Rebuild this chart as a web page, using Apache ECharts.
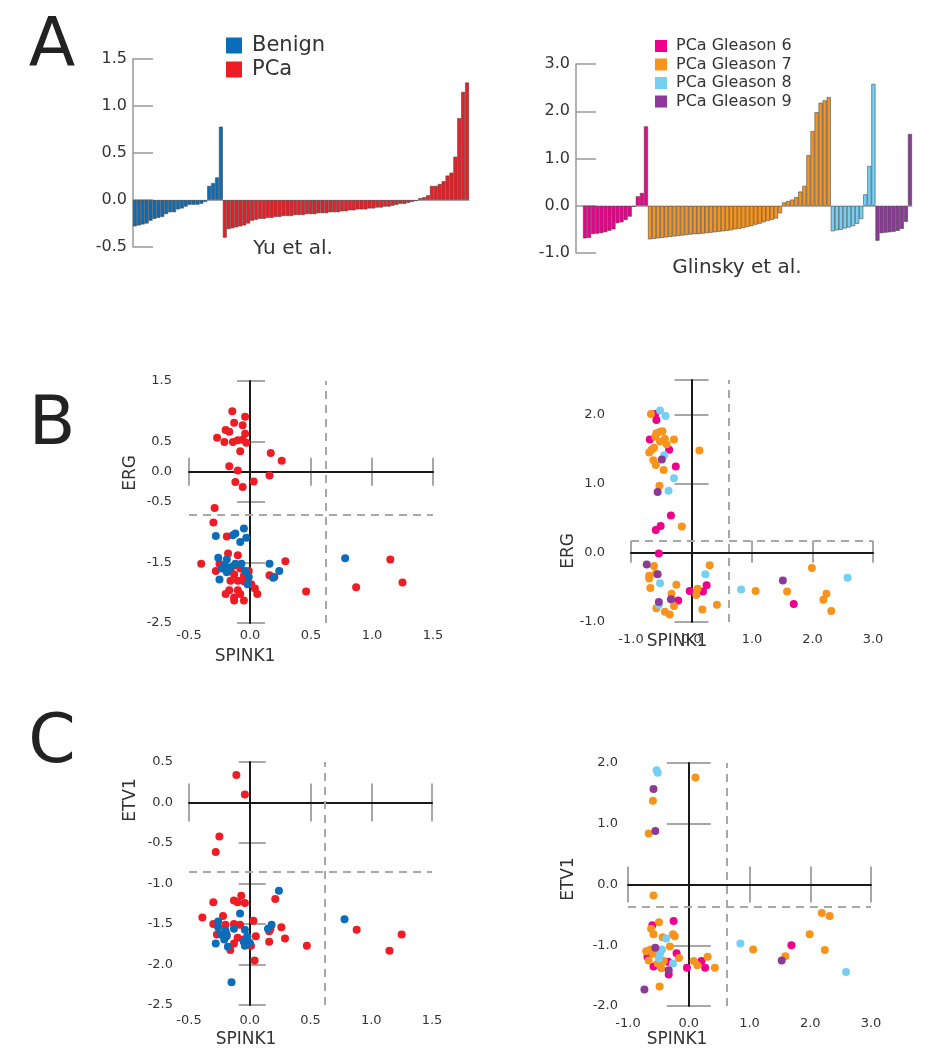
<!DOCTYPE html>
<html><head><meta charset="utf-8">
<script src="https://cdn.jsdelivr.net/npm/echarts@6/dist/echarts.min.js"></script>
<style>html,body{margin:0;padding:0;background:#fff}#c{width:942px;height:1050px}</style>
</head><body><div id="c"></div>
<script>
// ---------------- DATA ----------------
// Panel A: waterfall bars (sorted per group)
const yuBenign = [-0.28,-0.27,-0.26,-0.25,-0.22,-0.2,-0.19,-0.18,-0.15,-0.13,-0.13,-0.1,-0.09,-0.07,-0.05,-0.05,-0.05,-0.04,-0.02,0.15,0.18,0.24,0.78];
const yuPCa = [-0.4,-0.31,-0.3,-0.29,-0.28,-0.27,-0.25,-0.22,-0.21,-0.2,-0.2,-0.19,-0.19,-0.18,-0.18,-0.17,-0.17,-0.17,-0.16,-0.16,-0.16,-0.15,-0.15,-0.15,-0.14,-0.14,-0.14,-0.13,-0.13,-0.13,-0.12,-0.12,-0.11,-0.11,-0.1,-0.1,-0.1,-0.09,-0.09,-0.08,-0.08,-0.07,-0.07,-0.06,-0.05,-0.04,-0.04,-0.03,-0.02,-0.01,
  0.02,0.03,0.05,0.15,0.15,0.17,0.2,0.26,0.29,0.46,0.87,1.15,1.25];
const glG6 = [-0.69,-0.68,-0.6,-0.59,-0.58,-0.56,-0.53,-0.5,-0.37,-0.35,-0.3,-0.23,-0.02,0.2,0.27,1.68];
const glG7 = [-0.71,-0.7,-0.69,-0.68,-0.67,-0.66,-0.65,-0.64,-0.63,-0.62,-0.61,-0.6,-0.6,-0.59,-0.58,-0.57,-0.56,-0.55,-0.54,-0.53,-0.52,-0.5,-0.49,-0.47,-0.45,-0.43,-0.4,-0.38,-0.35,-0.32,-0.3,-0.27,-0.16,
  0.07,0.1,0.13,0.18,0.3,0.42,1.07,1.58,1.98,2.18,2.23,2.3];
const glG8 = [-0.54,-0.52,-0.51,-0.48,-0.46,-0.43,-0.38,-0.28,0.24,0.84,2.58];
const glG9 = [-0.74,-0.58,-0.57,-0.56,-0.55,-0.53,-0.49,-0.34,1.52];

// Panel B: SPINK1 vs ERG
const bYuBenign = [[-0.05,-0.94],[-0.12,-1.02],[-0.14,-1.05],[-0.03,-1.09],[-0.28,-1.06],[-0.08,-1.16],[-0.26,-1.42],[-0.19,-1.45],[-0.12,-1.52],[-0.07,-1.52],[-0.23,-1.6],[-0.19,-1.66],[-0.25,-1.78],[-0.04,-1.64],[-0.01,-1.74],[-0.02,-1.86],[0.16,-1.52],[0.19,-1.75],[0.24,-1.64],[0.78,-1.43],[-0.21,-1.55],[-0.16,-1.58]];
const bYuPCa = [[-0.145,1.0],[-0.04,0.91],[-0.13,0.81],[-0.06,0.77],[-0.2,0.69],[-0.17,0.66],[-0.04,0.63],[-0.27,0.56],[-0.21,0.49],[-0.14,0.49],[-0.1,0.52],[-0.06,0.53],[-0.03,0.48],[-0.08,0.34],[0.17,0.31],[0.26,0.18],[-0.17,0.09],[-0.1,0.02],[0.16,-0.06],[-0.12,-0.17],[0.03,-0.16],[-0.06,-0.25],[-0.29,-0.6],[-0.3,-0.84],[-0.19,-1.07],[-0.18,-1.35],[-0.1,-1.38],[-0.4,-1.52],[-0.25,-1.52],[-0.28,-1.64],[-0.16,-1.64],[-0.13,-1.7],[-0.16,-1.8],[-0.1,-1.8],[-0.05,-1.81],[-0.01,-1.64],[0.01,-1.86],[0.04,-1.93],[0.06,-2.02],[-0.17,-1.96],[-0.1,-1.96],[-0.2,-2.02],[-0.13,-2.08],[-0.08,-2.02],[-0.05,-2.13],[-0.13,-2.13],[0.16,-1.71],[0.2,-1.74],[0.29,-1.48],[0.46,-1.98],[0.87,-1.91],[1.15,-1.45],[1.25,-1.83],[-0.13,-1.55],[-0.08,-1.6],[-0.22,-1.58],[-0.05,-1.72]];
const bGlG7 = [[-0.67,2.01],[-0.52,1.75],[-0.58,1.73],[-0.48,1.76],[-0.6,1.68],[-0.44,1.65],[-0.29,1.64],[-0.52,1.61],[-0.41,1.57],[-0.62,1.52],[-0.66,1.49],[-0.7,1.45],[0.13,1.48],[-0.63,1.34],[-0.59,1.27],[-0.46,1.2],[-0.53,0.97],[-0.16,0.38],[-0.62,-0.19],[0.3,-0.18],[-0.59,-0.3],[-0.7,-0.33],[-0.7,-0.37],[-0.25,-0.46],[-0.68,-0.51],[0.1,-0.52],[0.08,-0.61],[-0.33,-0.59],[1.06,-0.55],[1.58,-0.56],[1.99,-0.22],[2.23,-0.59],[2.18,-0.68],[2.31,-0.84],[-0.58,-0.8],[-0.44,-0.85],[-0.36,-0.89],[-0.29,-0.77],[0.18,-0.82],[0.42,-0.75]];
const bGlG6 = [[-0.6,2.01],[-0.58,1.92],[-0.69,1.64],[-0.37,1.49],[-0.26,1.25],[-0.34,0.54],[-0.51,0.39],[-0.59,0.33],[-0.54,-0.01],[-0.03,-0.55],[0.19,-0.56],[0.25,-0.47],[-0.22,-0.69],[1.69,-0.74]];
const bGlG8 = [[-0.52,2.06],[-0.43,1.98],[-0.45,1.41],[-0.29,1.08],[-0.38,0.9],[-0.52,-0.44],[0.23,-0.31],[0.82,-0.53],[2.58,-0.36],[-0.54,-0.75]];
const bGlG9 = [[-0.49,1.35],[-0.56,0.88],[-0.74,-0.17],[-0.56,-0.31],[-0.34,-0.67],[-0.54,-0.71],[1.51,-0.4]];

// Panel C: SPINK1 vs ETV1
const cYuPCa = [[-0.11,0.34],[-0.04,0.1],[-0.25,-0.42],[-0.28,-0.61],[-0.3,-1.23],[-0.07,-1.15],[-0.13,-1.21],[-0.1,-1.23],[-0.04,-1.24],[0.21,-1.19],[-0.39,-1.42],[-0.22,-1.4],[-0.3,-1.5],[0.03,-1.46],[-0.13,-1.5],[-0.08,-1.51],[-0.27,-1.63],[0.26,-1.54],[0.16,-1.59],[0.17,-1.56],[0.05,-1.65],[0.29,-1.68],[0.16,-1.72],[0.47,-1.77],[0.01,-1.77],[-0.16,-1.82],[-0.13,-1.74],[-0.1,-1.67],[-0.19,-1.63],[0.04,-1.95],[0.88,-1.57],[1.15,-1.83],[1.25,-1.63],[-0.2,-1.51],[-0.05,-1.69]];
const cYuBenign = [[0.24,-1.09],[-0.08,-1.37],[-0.26,-1.47],[-0.26,-1.54],[-0.2,-1.58],[-0.24,-1.63],[-0.19,-1.65],[-0.21,-1.69],[-0.13,-1.56],[-0.04,-1.57],[-0.02,-1.65],[-0.05,-1.72],[-0.28,-1.74],[-0.18,-1.78],[-0.04,-1.77],[0,-1.73],[0.15,-1.56],[0.18,-1.51],[0.78,-1.44],[-0.15,-2.22]];
const cGlG7 = [[0.11,1.76],[-0.59,1.38],[-0.66,0.84],[-0.58,-0.18],[2.19,-0.47],[2.32,-0.52],[1.99,-0.82],[2.24,-1.08],[1.06,-1.07],[1.59,-1.18],[-0.49,-0.62],[-0.62,-0.73],[-0.58,-0.82],[-0.43,-0.87],[-0.26,-0.82],[-0.23,-0.85],[-0.31,-1.02],[-0.16,-1.21],[-0.7,-1.1],[-0.63,-1.07],[-0.59,-1.14],[-0.66,-1.25],[-0.51,-1.3],[-0.41,-1.26],[-0.45,-1.38],[0.08,-1.26],[0.14,-1.33],[0.31,-1.19],[0.43,-1.37],[-0.48,-1.68],[-0.55,-1.11]];
const cGlG6 = [[-0.25,-0.6],[-0.6,-0.67],[-0.2,-1.13],[-0.68,-1.19],[-0.58,-1.35],[-0.33,-1.48],[-0.34,-1.27],[-0.03,-1.37],[0.21,-1.26],[0.27,-1.37],[1.69,-1.0]];
const cGlG8 = [[-0.53,1.88],[-0.51,1.84],[-0.37,-0.89],[-0.44,-1.07],[-0.47,-1.14],[-0.49,-1.22],[-0.26,-1.3],[0.85,-0.97],[2.59,-1.44]];
const cGlG9 = [[-0.58,1.57],[-0.55,0.88],[-0.55,-1.04],[-0.33,-1.41],[1.53,-1.25],[-0.73,-1.73]];

// cut-off thresholds [SPINK1, ERG/ETV1]
const cutB1 = [0.62, -0.71];
const cutB2 = [0.62, 0.18];
const cutC1 = [0.62, -0.85];
const cutC2 = [0.62, -0.36];

// tick labels
const yLabelsB1 = ['1.5','0.5','0.0','-0.5','-1.5','-2.5'];
const yLabelsB2 = ['2.0','1.0','0.0','-1.0'];
const yLabelsC1 = ['0.5','0.0','-0.5','-1.0','-1.5','-2.0','-2.5'];
const yLabelsC2 = ['2.0','1.0','0.0','-1.0','-2.0'];
const xLabelsYu = ['-0.5','0.0','0.5','1.0','1.5'];
const xLabelsGl = ['-1.0','0.0','1.0','2.0','3.0'];

const groupNames = ['Benign','PCa','PCa Gleason 6','PCa Gleason 7','PCa Gleason 8','PCa Gleason 9'];

// ---------------- STYLE ----------------
const FONT = 'DejaVu Sans';
const C = {
  'Benign':'#0b6db7', 'PCa':'#ee1c25',
  'PCa Gleason 6':'#ec008c', 'PCa Gleason 7':'#f7941d',
  'PCa Gleason 8':'#74cff3', 'PCa Gleason 9':'#8b3b97'
};

const chart = echarts.init(document.getElementById('c'), null, {renderer:'canvas'});

const grid = [
  {left:133, top:59, width:336, height:188},
  {left:583, top:64, width:329, height:189},
  {left:189, top:381, width:244, height:242},
  {left:631, top:380, width:242, height:242},
  {left:189, top:762, width:243, height:243},
  {left:628, top:763, width:243, height:243}
];

const xAxis = [], yAxis = [], series = [];

// ----- panel A -----
function barPanel(gi, groups, yMin, yMax, yInt, offset) {
  const n = groups.reduce((s,g)=>s+g.vals.length,0);
  const cats = Array.from({length:n},(_,i)=>String(i+1));
  const xi = xAxis.length, yi = yAxis.length;
  xAxis.push({gridIndex:gi, type:'category', data:cats, boundaryGap:true,
    axisLine:{show:true, onZero:true, lineStyle:{color:'#999', width:0.8}},
    axisTick:{show:false}, axisLabel:{show:false}, splitLine:{show:false}});
  yAxis.push({gridIndex:gi, type:'value', min:yMin, max:yMax, interval:yInt, offset:offset,
    axisLine:{show:true, onZero:false, lineStyle:{color:'#999', width:1.5}},
    axisTick:{show:true, inside:true, length:20, lineStyle:{color:'#999', width:1.5}},
    axisLabel:{fontSize:16, color:'#333', fontFamily:FONT, margin:6, formatter:v=>v.toFixed(1)},
    splitLine:{show:false}});
  let start = 0;
  groups.forEach(g=>{
    const data = new Array(n).fill(null);
    g.vals.forEach((v,i)=>{ data[start+i] = v; });
    start += g.vals.length;
    series.push({type:'bar', name:g.name, xAxisIndex:xi, yAxisIndex:yi, data:data,
      barGap:'-100%', barCategoryGap:'0%', animation:false, silent:true,
      itemStyle:{color:C[g.name], borderColor:'#4a4a4a', borderWidth:0.6}});
  });
}
barPanel(0, [{name:'Benign', vals:yuBenign},{name:'PCa', vals:yuPCa}], -0.5, 1.5, 0.5, 0);
barPanel(1, [{name:'PCa Gleason 6', vals:glG6},{name:'PCa Gleason 7', vals:glG7},
             {name:'PCa Gleason 8', vals:glG8},{name:'PCa Gleason 9', vals:glG9}], -1, 3, 1, 7);

// ----- scatter panels -----
function scatterPanel(p) {
  const xl = xAxis.length, yl = yAxis.length;
  const tickStyle = {color:'#8a8a8a', width:1.5};
  const lineStyle = {color:'#1a1a1a', width:2};
  const fmt = list => (v => { const s = (Math.abs(v)<1e-9?0:v).toFixed(1); return list.includes(s) ? s : ''; });
  const noLab = {show:false}, noSplit = {show:false};
  // x axes: labels / ticks down / ticks up / zero line
  xAxis.push({gridIndex:p.g, type:'value', position:'bottom', min:p.x[0], max:p.x[1], interval:p.x[2],
    axisLine:{show:false, onZero:false}, axisTick:{show:false}, splitLine:noSplit,
    axisLabel:{fontSize:13, color:'#333', fontFamily:FONT, margin:p.xm, formatter:fmt(p.xl)}});
  [false, true].forEach(inside => xAxis.push({gridIndex:p.g, type:'value', position:'bottom', z:0,
    min:p.x[0], max:p.x[1], interval:p.x[2],
    axisLine:{show:false, onZero:true, onZeroAxisIndex:yl},
    axisTick:{show:true, inside:inside, length:inside?p.xt[0]:p.xt[1], lineStyle:tickStyle},
    axisLabel:noLab, splitLine:noSplit}));
  xAxis.push({gridIndex:p.g, type:'value', position:'bottom', z:1, min:p.x[0], max:p.x[1], interval:p.x[2],
    axisLine:{show:true, onZero:true, onZeroAxisIndex:yl, lineStyle:lineStyle},
    axisTick:{show:false}, axisLabel:noLab, splitLine:noSplit});
  // y axes
  yAxis.push({gridIndex:p.g, type:'value', position:'left', min:p.y[0], max:p.y[1], interval:p.y[2],
    axisLine:{show:false, onZero:false}, axisTick:{show:false}, splitLine:noSplit,
    axisLabel:{fontSize:13, color:'#333', fontFamily:FONT, margin:p.ym, formatter:fmt(p.yl)}});
  [false, true].forEach(inside => yAxis.push({gridIndex:p.g, type:'value', position:'left', z:0,
    min:p.y[0], max:p.y[1], interval:p.y[3],
    axisLine:{show:false, onZero:true, onZeroAxisIndex:xl},
    axisTick:{show:true, inside:inside, length:inside?p.yt[1]:p.yt[0], lineStyle:tickStyle},
    axisLabel:noLab, splitLine:noSplit}));
  yAxis.push({gridIndex:p.g, type:'value', position:'left', z:1, min:p.y[0], max:p.y[1], interval:p.y[3],
    axisLine:{show:true, onZero:true, onZeroAxisIndex:xl, lineStyle:lineStyle},
    axisTick:{show:false}, axisLabel:noLab, splitLine:noSplit});
  p.sets.forEach((s,i)=>{
    const ser = {type:'scatter', name:s.name, xAxisIndex:xl, yAxisIndex:yl, data:s.data,
      symbolSize:8, animation:false, silent:true, itemStyle:{color:C[s.name], opacity:1}};
    if (i===0) {
      ser.markLine = {silent:true, symbol:['none','none'], animation:false, label:{show:false},
        lineStyle:{color:'#a8a8a8', width:2, type:[8,6]},
        data:[{xAxis:p.cut[0]},{yAxis:p.cut[1]}]};
    }
    series.push(ser);
  });
}

scatterPanel({g:2, x:[-0.5,1.5,0.5], y:[-2.5,1.5,0.5,1], xl:xLabelsYu, yl:yLabelsB1, xm:6, ym:17,
  xt:[14,14], yt:[13,15], cut:cutB1,
  sets:[{name:'PCa',data:bYuPCa},{name:'Benign',data:bYuBenign}]});
scatterPanel({g:3, x:[-1,3,1], y:[-1,2.5,1,1], xl:xLabelsGl, yl:yLabelsB2, xm:11, ym:26,
  xt:[12,10], yt:[17,17], cut:cutB2,
  sets:[{name:'PCa Gleason 6',data:bGlG6},{name:'PCa Gleason 7',data:bGlG7},{name:'PCa Gleason 8',data:bGlG8},{name:'PCa Gleason 9',data:bGlG9}]});
scatterPanel({g:4, x:[-0.5,1.5,0.5], y:[-2.5,0.5,0.5,0.5], xl:xLabelsYu, yl:yLabelsC1, xm:9, ym:16,
  xt:[19,19], yt:[11,16], cut:cutC1,
  sets:[{name:'PCa',data:cYuPCa},{name:'Benign',data:cYuBenign}]});
scatterPanel({g:5, x:[-1,3,1], y:[-2,2,1,1], xl:xLabelsGl, yl:yLabelsC2, xm:11, ym:10,
  xt:[18,18], yt:[22,22], cut:cutC2,
  sets:[{name:'PCa Gleason 6',data:cGlG6},{name:'PCa Gleason 7',data:cGlG7},{name:'PCa Gleason 8',data:cGlG8},{name:'PCa Gleason 9',data:cGlG9}]});

// ----- texts -----
function txt(t, x, y, size, rot, color) {
  return {type:'text', x:x, y:y, rotation:rot||0, silent:true, z:100,
    style:{text:t, x:0, y:0, font:size+'px "'+FONT+'"', fill:color||'#333',
      align:'center', verticalAlign:'middle', textAlign:'center', textVerticalAlign:'middle'}};
}
const graphic = [
  txt('A', 52, 48, 68, 0, '#222'),
  txt('B', 52, 426, 68, 0, '#222'),
  txt('C', 52, 744, 68, 0, '#222'),
  txt('Yu et al.', 293, 249, 20),
  txt('Glinsky et al.', 737, 268, 20),
  txt('ERG', 131, 473, 17, Math.PI/2),
  txt('SPINK1', 245, 657, 17),
  txt('ERG', 569, 551, 17, Math.PI/2),
  txt('SPINK1', 677, 642, 17),
  txt('ETV1', 131, 800, 17, Math.PI/2),
  txt('SPINK1', 246, 1040, 17),
  txt('ETV1', 569, 879, 17, Math.PI/2),
  txt('SPINK1', 677, 1040, 17)
];

const legend = [
  {data:groupNames.slice(0,2), left:226, top:35, padding:0, orient:'vertical', icon:'rect',
   itemWidth:16, itemHeight:16, itemGap:3, selectedMode:false,
   itemStyle:{borderWidth:0},
   textStyle:{fontSize:21, color:'#333', fontFamily:FONT, padding:[0,0,0,5]}},
  {data:groupNames.slice(2), left:655, top:38, padding:0, orient:'vertical', icon:'rect',
   itemWidth:12, itemHeight:12, itemGap:2.5, selectedMode:false,
   itemStyle:{borderWidth:0},
   textStyle:{fontSize:16, color:'#333', fontFamily:FONT, padding:[0,0,0,4]}}
];

chart.setOption({
  backgroundColor:'#fff',
  animation:false,
  textStyle:{fontFamily:FONT},
  grid:grid, xAxis:xAxis, yAxis:yAxis, series:series, legend:legend, graphic:graphic
});
</script></body></html>
